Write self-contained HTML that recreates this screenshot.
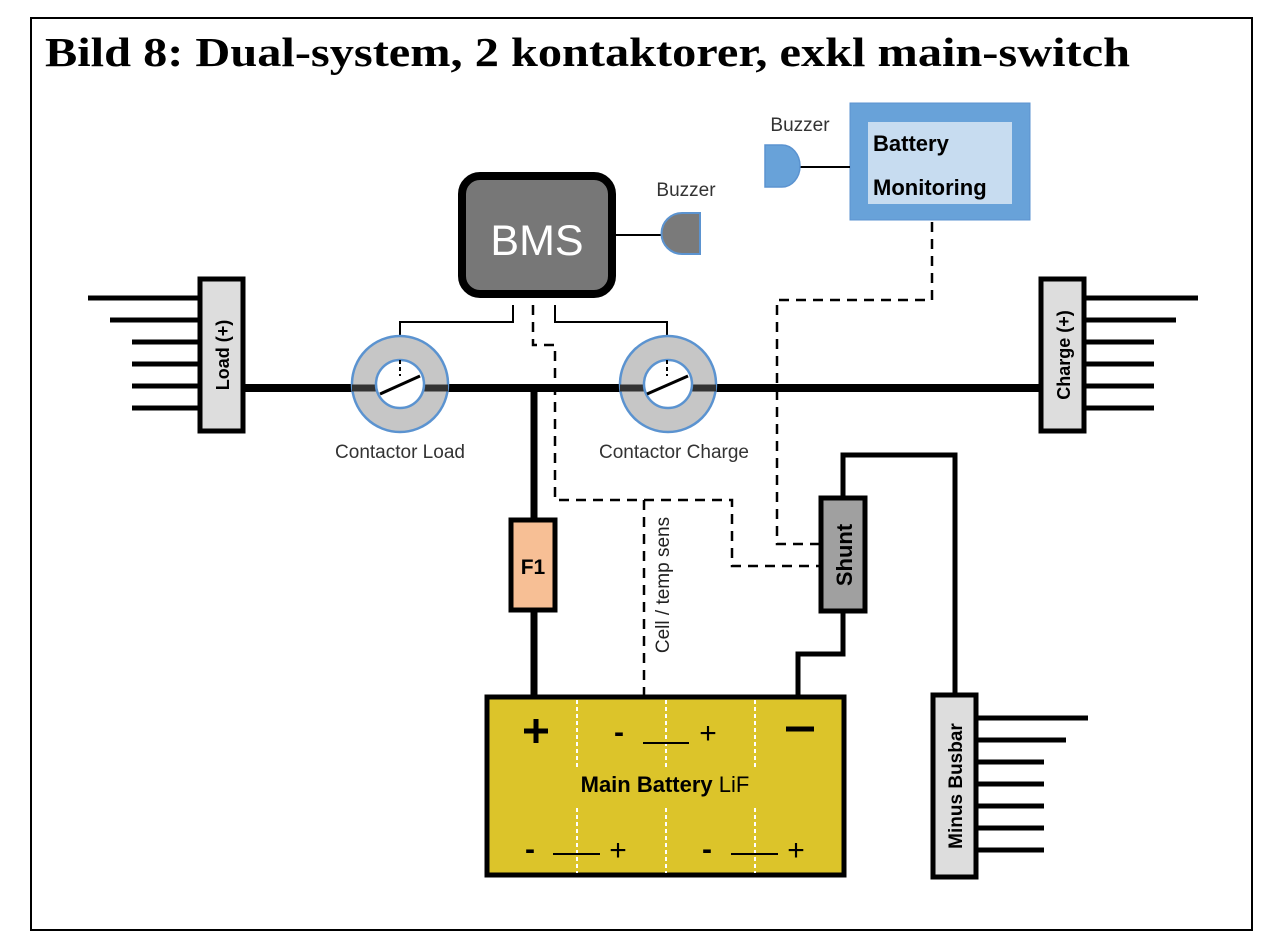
<!DOCTYPE html>
<html><head><meta charset="utf-8"><style>
html,body{margin:0;padding:0;background:#fff;}
svg{display:block;}
</style></head><body>
<svg width="1280" height="952" viewBox="0 0 1280 952" xmlns="http://www.w3.org/2000/svg">
<rect x="31" y="18" width="1221" height="912" fill="#fff" stroke="#000" stroke-width="2"/>
<text x="45" y="66" font-family="Liberation Serif, serif" font-weight="bold" font-size="41" textLength="1085" lengthAdjust="spacingAndGlyphs">Bild 8: Dual-system, 2 kontaktorer, exkl main-switch</text>

<g stroke="#000" stroke-width="5">
<line x1="88" y1="298" x2="200" y2="298"/>
<line x1="110" y1="320" x2="200" y2="320"/>
<line x1="132" y1="342" x2="200" y2="342"/>
<line x1="132" y1="364" x2="200" y2="364"/>
<line x1="132" y1="386" x2="200" y2="386"/>
<line x1="132" y1="408" x2="200" y2="408"/>
<line x1="1084" y1="298" x2="1198" y2="298"/>
<line x1="1084" y1="320" x2="1176" y2="320"/>
<line x1="1084" y1="342" x2="1154" y2="342"/>
<line x1="1084" y1="364" x2="1154" y2="364"/>
<line x1="1084" y1="386" x2="1154" y2="386"/>
<line x1="1084" y1="408" x2="1154" y2="408"/>
<line x1="976" y1="718" x2="1088" y2="718"/>
<line x1="976" y1="740" x2="1066" y2="740"/>
<line x1="976" y1="762" x2="1044" y2="762"/>
<line x1="976" y1="784" x2="1044" y2="784"/>
<line x1="976" y1="806" x2="1044" y2="806"/>
<line x1="976" y1="828" x2="1044" y2="828"/>
<line x1="976" y1="850" x2="1044" y2="850"/>
</g>

<line x1="244" y1="388" x2="1040" y2="388" stroke="#000" stroke-width="8"/>
<line x1="534" y1="388" x2="534" y2="695" stroke="#000" stroke-width="7"/>
<polyline points="843,497 843,455 955,455 955,695" fill="none" stroke="#000" stroke-width="5"/>
<polyline points="843,612 843,654 798,654 798,697" fill="none" stroke="#000" stroke-width="5"/>

<polyline points="513,305 513,322 400,322 400,360" fill="none" stroke="#000" stroke-width="2"/>
<polyline points="555,305 555,322 667,322 667,360" fill="none" stroke="#000" stroke-width="2"/>

<g fill="none" stroke="#000" stroke-width="2.5" stroke-dasharray="10,7">
<polyline points="533,305 533,345 555,345 555,500 732,500 732,566 820,566"/>
<line x1="644" y1="500" x2="644" y2="695"/>
<polyline points="932,222 932,300 777,300 777,544 820,544"/>
</g>

<g>
<circle cx="400" cy="384" r="48" fill="#c6c6c6" stroke="#5b93d0" stroke-width="2.5"/>
<line x1="352" y1="388" x2="448" y2="388" stroke="#333" stroke-width="7"/>
<circle cx="400" cy="384" r="24" fill="#fff" stroke="#5b93d0" stroke-width="2.5"/>
<line x1="380" y1="394" x2="420" y2="376" stroke="#000" stroke-width="3"/>
<line x1="400" y1="360" x2="400" y2="376" stroke="#000" stroke-width="2" stroke-dasharray="4,3"/>
<circle cx="668" cy="384" r="48" fill="#c6c6c6" stroke="#5b93d0" stroke-width="2.5"/>
<line x1="620" y1="388" x2="716" y2="388" stroke="#333" stroke-width="7"/>
<circle cx="668" cy="384" r="24" fill="#fff" stroke="#5b93d0" stroke-width="2.5"/>
<line x1="647" y1="394" x2="688" y2="376" stroke="#000" stroke-width="3"/>
<line x1="667" y1="360" x2="667" y2="376" stroke="#000" stroke-width="2" stroke-dasharray="4,3"/>
</g>
<g font-family="Liberation Sans, sans-serif" font-size="19" fill="#333" text-anchor="middle">
<text x="400" y="458">Contactor Load</text>
<text x="674" y="458">Contactor Charge</text>
<text x="686" y="196">Buzzer</text>
<text x="800" y="131">Buzzer</text>
</g>

<rect x="462" y="176" width="150" height="118" rx="18" fill="#777" stroke="#000" stroke-width="8"/>
<text x="537" y="255" font-family="Liberation Sans, sans-serif" font-size="43" fill="#fff" text-anchor="middle">BMS</text>
<line x1="616" y1="235" x2="664" y2="235" stroke="#000" stroke-width="2"/>
<path d="M700,213 L700,254 L682,254 A20,20 0 0 1 682,213 Z" fill="#7a7a7a" stroke="#5b93d0" stroke-width="2"/>

<rect x="850" y="103" width="180" height="117" fill="#68a2d9" stroke="#5b93d0" stroke-width="1"/>
<rect x="868" y="122" width="144" height="82" fill="#c7dcf0"/>
<g font-family="Liberation Sans, sans-serif" font-weight="bold" font-size="22" fill="#000">
<text x="873" y="151">Battery</text>
<text x="873" y="195">Monitoring</text>
</g>
<line x1="800" y1="167" x2="850" y2="167" stroke="#000" stroke-width="2"/>
<path d="M765,145 L782,145 A18,21 0 0 1 782,187 L765,187 Z" fill="#68a2d9" stroke="#5b93d0" stroke-width="1.5"/>

<rect x="200" y="279" width="43" height="152" fill="#ddd" stroke="#000" stroke-width="5"/>
<text transform="translate(229,355) rotate(-90)" font-family="Liberation Sans, sans-serif" font-weight="bold" font-size="18" text-anchor="middle">Load (+)</text>
<rect x="1041" y="279" width="43" height="152" fill="#ddd" stroke="#000" stroke-width="5"/>
<text transform="translate(1070,355) rotate(-90)" font-family="Liberation Sans, sans-serif" font-weight="bold" font-size="18" text-anchor="middle">Charge (+)</text>
<rect x="933" y="695" width="43" height="182" fill="#ddd" stroke="#000" stroke-width="5"/>
<text transform="translate(962,786) rotate(-90)" font-family="Liberation Sans, sans-serif" font-weight="bold" font-size="19" text-anchor="middle">Minus Busbar</text>
<rect x="821" y="498" width="44" height="113" fill="#a0a0a0" stroke="#000" stroke-width="5"/>
<text transform="translate(852,555) rotate(-90)" font-family="Liberation Sans, sans-serif" font-weight="bold" font-size="22" text-anchor="middle">Shunt</text>
<rect x="511" y="520" width="44" height="90" fill="#f7bf95" stroke="#000" stroke-width="5"/>
<text x="533" y="574" font-family="Liberation Sans, sans-serif" font-weight="bold" font-size="21" text-anchor="middle">F1</text>
<text transform="translate(669,585) rotate(-90)" font-family="Liberation Sans, sans-serif" font-size="19" fill="#222" text-anchor="middle">Cell / temp sens</text>

<rect x="487" y="697" width="357" height="178" fill="#dcc42a" stroke="#000" stroke-width="5"/>
<g stroke="#fff" stroke-width="2" stroke-dasharray="4,3">
<line x1="577" y1="700" x2="577" y2="768"/><line x1="666" y1="700" x2="666" y2="768"/><line x1="755" y1="700" x2="755" y2="768"/>
<line x1="577" y1="808" x2="577" y2="873"/><line x1="666" y1="808" x2="666" y2="873"/><line x1="755" y1="808" x2="755" y2="873"/>
</g>
<g stroke="#000" stroke-width="2">
<line x1="643" y1="743" x2="689" y2="743"/>
<line x1="553" y1="854" x2="600" y2="854"/>
<line x1="731" y1="854" x2="778" y2="854"/>
</g>
<g stroke="#000" stroke-width="5">
<line x1="524" y1="731" x2="548" y2="731"/><line x1="536" y1="719" x2="536" y2="743"/>
<line x1="786" y1="729" x2="814" y2="729"/>
</g>
<g font-family="Liberation Sans, sans-serif" font-size="30" fill="#000" text-anchor="middle">
<text x="619" y="742" font-weight="bold">-</text>
<text x="708" y="743">+</text>
<text x="530" y="859" font-weight="bold">-</text>
<text x="618" y="860">+</text>
<text x="707" y="859" font-weight="bold">-</text>
<text x="796" y="860">+</text>
</g>
<text x="665" y="792" font-family="Liberation Sans, sans-serif" font-size="22" text-anchor="middle"><tspan font-weight="bold">Main Battery</tspan> LiF</text>
</svg>
</body></html>
